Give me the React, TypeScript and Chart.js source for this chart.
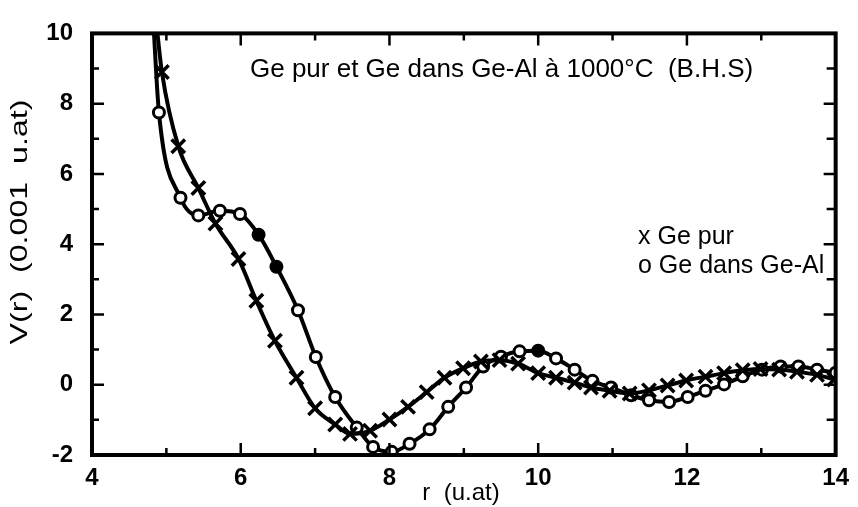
import React, { useEffect, useRef } from 'react';
import { Chart, registerables } from 'chart.js';

Chart.register(...registerables);

// Ge pur (x markers)
const pureR = [4.86, 4.94, 5.16, 5.43, 5.66, 5.97, 6.21, 6.46, 6.75, 7.0, 7.27, 7.47, 7.74, 8.0, 8.25, 8.5, 8.74, 8.99, 9.23, 9.48, 9.73, 10.0, 10.24, 10.49, 10.71, 10.96, 11.23, 11.49, 11.74, 11.99, 12.25, 12.5, 12.75, 12.99, 13.24, 13.48, 13.75, 13.98];
const pureV = [10.4, 8.9, 6.79, 5.6, 4.59, 3.58, 2.39, 1.25, 0.2, -0.67, -1.13, -1.4, -1.31, -0.99, -0.63, -0.21, 0.2, 0.47, 0.66, 0.7, 0.6, 0.33, 0.2, 0.06, -0.08, -0.17, -0.25, -0.16, -0.02, 0.12, 0.23, 0.33, 0.41, 0.45, 0.43, 0.37, 0.28, 0.15];

// Ge dans Ge-Al (o markers)
const alloyR = [4.82, 4.9, 5.19, 5.43, 5.72, 5.99, 6.24, 6.48, 6.77, 7.01, 7.27, 7.56, 7.78, 8.03, 8.27, 8.54, 8.79, 9.03, 9.26, 9.5, 9.75, 10.0, 10.24, 10.49, 10.73, 10.98, 11.25, 11.49, 11.76, 12.01, 12.25, 12.5, 12.75, 13.01, 13.26, 13.5, 13.75, 14.0];
const alloyV = [10.5, 7.75, 5.32, 4.82, 4.95, 4.86, 4.27, 3.36, 2.12, 0.79, -0.35, -1.22, -1.77, -1.91, -1.68, -1.27, -0.63, -0.08, 0.52, 0.8, 0.95, 0.97, 0.75, 0.43, 0.11, -0.08, -0.3, -0.44, -0.49, -0.35, -0.17, 0.01, 0.24, 0.43, 0.52, 0.52, 0.43, 0.34];
// indices of circle markers that appear filled in the scan
const alloyFilled = [6, 7, 21];

const xTicks = [4, 6, 8, 10, 12, 14];
const yTicks = [-2, 0, 2, 4, 6, 8, 10];

const titleText = 'Ge pur et Ge dans Ge-Al à 1000°C  (B.H.S)';
const legendTexts = ['x Ge pur', 'o Ge dans Ge-Al'];
const xTitle = 'r  (u.at)';
const yTitle = 'V(r)  (0.001  u.at)';

const FONT = '"Liberation Sans", Arial, Helvetica, sans-serif';

const framePlugin = {
  id: 'frameAndText',
  afterDraw(chart: any) {
    const { ctx, chartArea, scales } = chart;
    const xs = scales.x;
    const ys = scales.y;
    ctx.save();
    ctx.strokeStyle = '#000';
    ctx.lineCap = 'butt';
    // frame
    ctx.lineWidth = 4;
    ctx.strokeRect(chartArea.left, chartArea.top, chartArea.right - chartArea.left, chartArea.bottom - chartArea.top);
    // inward ticks
    ctx.lineWidth = 2.5;
    for (let v = 4; v <= 14; v += 1) {
      const px = xs.getPixelForValue(v);
      const major = v % 2 === 0;
      ctx.beginPath();
      ctx.moveTo(px, chartArea.bottom);
      ctx.lineTo(px, chartArea.bottom - (major ? 12 : 7));
      ctx.moveTo(px, chartArea.top);
      ctx.lineTo(px, chartArea.top + (major ? 12 : 7));
      ctx.stroke();
    }
    for (let v = -2; v <= 10; v += 1) {
      const py = ys.getPixelForValue(v);
      const major = v % 2 === 0;
      ctx.beginPath();
      ctx.moveTo(chartArea.left, py);
      ctx.lineTo(chartArea.left + (major ? 12 : 7), py);
      ctx.moveTo(chartArea.right, py);
      ctx.lineTo(chartArea.right - (major ? 12 : 9), py);
      ctx.stroke();
    }
    // texts
    ctx.fillStyle = '#000';
    ctx.textBaseline = 'middle';
    ctx.textAlign = 'left';
    ctx.font = `26px ${FONT}`;
    ctx.fillText(titleText, 250, 70);
    ctx.font = `25px ${FONT}`;
    ctx.fillText(legendTexts[0], 638, 237);
    ctx.fillText(legendTexts[1], 638, 266);
    ctx.textAlign = 'center';
    ctx.font = `24px ${FONT}`;
    ctx.fillText(xTitle, 461, 493);
    ctx.translate(20, 222);
    ctx.rotate(-Math.PI / 2);
    ctx.scale(1.34, 1);
    ctx.fillText(yTitle, 0, 0);
    ctx.restore();
  },
};

export default function App() {
  const ref = useRef<HTMLCanvasElement | null>(null);
  useEffect(() => {
    if (!ref.current) return;
    const pureData = pureR.map((r, i) => ({ x: r, y: pureV[i] }));
    const alloyData = alloyR.map((r, i) => ({ x: r, y: alloyV[i] }));
    const chart = new Chart(ref.current, {
      type: 'scatter',
      data: {
        datasets: [
          {
            label: 'Ge pur',
            data: pureData,
            showLine: true,
            borderColor: '#000',
            borderWidth: 4,
            cubicInterpolationMode: 'monotone',
            pointStyle: 'crossRot',
            pointRadius: pureData.map((_, i) => (i === 0 ? 0 : 9.5)),
            pointBorderWidth: 3.5,
            pointBorderColor: '#000',
            pointBackgroundColor: '#000',
          },
          {
            label: 'Ge dans Ge-Al',
            data: alloyData,
            showLine: true,
            borderColor: '#000',
            borderWidth: 4,
            cubicInterpolationMode: 'monotone',
            pointStyle: 'circle',
            pointRadius: alloyData.map((_, i) => (i === 0 ? 0 : 5.5)),
            pointBorderWidth: 3,
            pointBorderColor: '#000',
            pointBackgroundColor: alloyData.map((_, i) => (alloyFilled.includes(i) ? '#000' : '#fff')),
          },
        ],
      },
      options: {
        animation: false,
        responsive: true,
        maintainAspectRatio: false,
        layout: { padding: { left: 0, right: 18, top: 18, bottom: 0 } },
        plugins: { legend: { display: false }, tooltip: { enabled: false } },
        scales: {
          x: {
            type: 'linear',
            min: 4,
            max: 14,
            afterBuildTicks: (s: any) => { s.ticks = xTicks.map((v) => ({ value: v })); },
            afterFit: (s: any) => { s.height = 52; },
            grid: { display: false, drawTicks: false },
            border: { display: false },
            ticks: { color: '#000', padding: 9, font: { family: FONT, size: 24, weight: 'bold' }, maxRotation: 0 },
          },
          y: {
            type: 'linear',
            min: -2,
            max: 10,
            afterBuildTicks: (s: any) => { s.ticks = yTicks.map((v) => ({ value: v })); },
            afterFit: (s: any) => { s.width = 92; },
            grid: { display: false, drawTicks: false },
            border: { display: false },
            ticks: { color: '#000', padding: 19, font: { family: FONT, size: 24, weight: 'bold' } },
          },
        },
      },
      plugins: [framePlugin],
    } as any);
    return () => chart.destroy();
  }, []);
  return (
    <div style={{ position: 'absolute', left: 0, top: 0, width: 858, height: 507, background: '#fff' }}>
      <canvas ref={ref} />
    </div>
  );
}
